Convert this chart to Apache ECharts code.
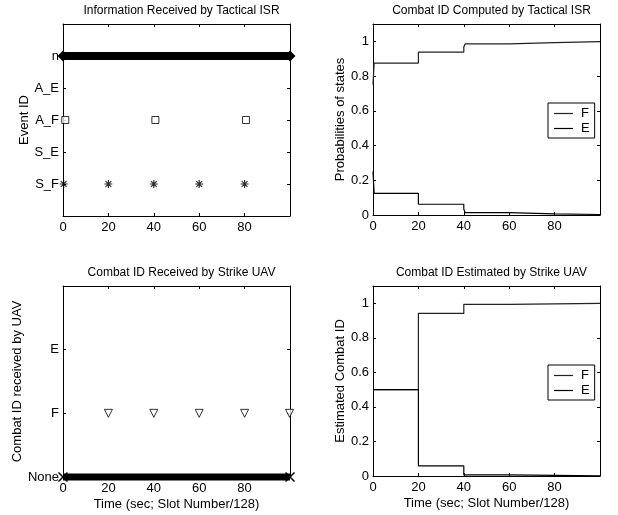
<!DOCTYPE html>
<html><head><meta charset="utf-8">
<script src="https://cdn.jsdelivr.net/npm/echarts@6/dist/echarts.min.js"></script>
<style>html,body{margin:0;padding:0;background:#fff}#c{width:618px;height:515px}</style>
</head><body><div id="c"></div>
<script>
// ---- data ----
var titles = ['Information Received by Tactical ISR','Combat ID Computed by Tactical ISR','Combat ID Received by Strike UAV','Combat ID Estimated by Strike UAV'];
var yNames = ['Event ID','Probabilities of states','Combat ID received by UAV','Estimated Combat ID'];
var xName = 'Time (sec; Slot Number/128)';
var eventLabels = ['', 'S_F', 'S_E', 'A_F', 'A_E', 'n'];
var uavLabels = ['None', 'F', 'E'];
var xTicks = [0, 20, 40, 60, 80];
var probTicks = [0, 0.2, 0.4, 0.6, 0.8, 1];
// top-left
var noneEventRow = [[0, 5], [100, 5]];
var afEvents = [[1, 3], [40.7, 3], [80.6, 3]];
var sfEvents = [[0.3, 1], [20, 1], [40, 1], [60, 1], [80, 1]];
// top-right
var ispTimes = [0, 0.5, 20, 40, 40.6, 60, 80, 100];
var ispF = [0.75, 0.875, 0.938, 0.967, 0.986, 0.993, 0.998, 0.998];
var ispE = [0.25, 0.125, 0.062, 0.033, 0.014, 0.007, 0.003, 0.003];
// bottom-left
var noneUavRow = [[0, 0], [100, 0]];
var fReceived = [[20, 1], [40, 1], [60, 1], [80, 1], [99.8, 1]];
// bottom-right
var uavTimes = [0, 20, 40, 60, 100];
var uavF = [0.5, 0.941, 0.994, 0.999, 0.999];
var uavE = [0.5, 0.059, 0.006, 0.001, 0.001];

// ---- build ----
var FONT = "'Liberation Sans', Arial, sans-serif";
var chart = echarts.init(document.getElementById('c'), null, {renderer: 'canvas'});
var grids = [
  {left: 63, top: 24, width: 227, height: 192},
  {left: 373, top: 24, width: 227, height: 191},
  {left: 63, top: 286, width: 227, height: 191},
  {left: 373, top: 286, width: 227, height: 190}
];
function probFmt(v) {
  var r = Math.round(v * 10) / 10;
  return probTicks.indexOf(r) >= 0 && Math.abs(r - v) < 1e-6 ? String(r) : '';
}
var yCfg = [
  {min: 0, max: 6, interval: 1, fmt: function (v) { return eventLabels[v] || ''; }, gap: 29},
  {min: 0, max: 1.1, interval: 0.2, fmt: probFmt, gap: 18},
  {min: 0, max: 3, interval: 1, fmt: function (v) { return v < 3 ? uavLabels[v] : ''; }, gap: 32},
  {min: 0, max: 1.1, interval: 0.2, fmt: probFmt, gap: 21}
];
var axLine = {show: true, onZero: false, lineStyle: {color: '#000', width: 1}};
var tick = {show: true, inside: true, length: 3, lineStyle: {color: '#000'}};
var lbl = {color: '#000', fontFamily: FONT, fontSize: 13};
var xAxes = [], yAxes = [];
grids.forEach(function (g, i) {
  xAxes.push({type: 'value', gridIndex: i, position: 'bottom', min: 0, max: 100, interval: 20,
    axisLine: axLine, axisTick: tick, splitLine: {show: false},
    axisLabel: Object.assign({margin: 5, formatter: function (v) { return xTicks.indexOf(v) >= 0 ? String(v) : ''; }}, lbl),
    name: i >= 2 ? xName : '', nameLocation: 'middle', nameGap: 21,
    nameTextStyle: {color: '#000', fontFamily: FONT, fontSize: 13}});
  xAxes.push({type: 'value', gridIndex: i, position: 'top', min: 0, max: 100, interval: 20,
    axisLine: axLine, axisTick: tick, splitLine: {show: false}, axisLabel: {show: false}});
  var c = yCfg[i];
  yAxes.push({type: 'value', gridIndex: i, position: 'left', min: c.min, max: c.max, interval: c.interval,
    axisLine: axLine, axisTick: tick, splitLine: {show: false},
    axisLabel: Object.assign({margin: 4, formatter: c.fmt}, lbl),
    name: yNames[i], nameLocation: 'middle', nameGap: c.gap,
    nameTextStyle: {color: '#000', fontFamily: FONT, fontSize: 13}});
  yAxes.push({type: 'value', gridIndex: i, position: 'right', min: c.min, max: c.max, interval: c.interval,
    axisLine: axLine, axisTick: tick, splitLine: {show: false}, axisLabel: {show: false}});
});
var titleOpts = grids.map(function (g, i) {
  return {text: titles[i], left: g.left + g.width / 2, top: g.top - 24, textAlign: 'center',
    textStyle: {color: '#000', fontFamily: FONT, fontSize: 12, fontWeight: 'normal'}};
});
function steps(times, vals) { return times.map(function (t, k) { return [t, vals[k]]; }); }
var star = 'path://M0,-5L0,5M-5,0L5,0M-3.6,-3.6L3.6,3.6M-3.6,3.6L3.6,-3.6';
var series = [
  {type: 'line', name: 'n', xAxisIndex: 0, yAxisIndex: 0, data: noneEventRow, clip: false,
    lineStyle: {color: '#000', width: 8}, symbol: 'diamond', symbolSize: 11, itemStyle: {color: '#000'}, silent: true},
  {type: 'scatter', name: 'A_F', xAxisIndex: 0, yAxisIndex: 0, data: afEvents, clip: false,
    symbol: 'rect', symbolSize: 7, itemStyle: {color: '#fff', borderColor: '#000', borderWidth: 1}},
  {type: 'scatter', name: 'S_F', xAxisIndex: 0, yAxisIndex: 0, data: sfEvents, clip: false,
    symbol: star, symbolSize: 8, itemStyle: {color: '#000', borderColor: '#000', borderWidth: 1.2}},
  {type: 'line', name: 'F', xAxisIndex: 2, yAxisIndex: 2, step: 'end', data: steps(ispTimes, ispF),
    symbol: 'none', lineStyle: {color: '#222', width: 1.2}, itemStyle: {color: '#222'}},
  {type: 'line', name: 'E', xAxisIndex: 2, yAxisIndex: 2, step: 'end', data: steps(ispTimes, ispE),
    symbol: 'none', lineStyle: {color: '#000', width: 1.2}, itemStyle: {color: '#000'}},
  {type: 'line', name: 'None', xAxisIndex: 4, yAxisIndex: 4, data: noneUavRow, clip: false,
    lineStyle: {color: '#000', width: 7}, symbol: 'path://M-5,-5L5,5M-5,5L5,-5', symbolSize: 9,
    itemStyle: {color: '#000', borderColor: '#000', borderWidth: 1.5}, silent: true},
  {type: 'scatter', name: 'Frcv', xAxisIndex: 4, yAxisIndex: 4, data: fReceived, clip: false,
    symbol: 'triangle', symbolRotate: 180, symbolSize: 8, itemStyle: {color: '#fff', borderColor: '#000', borderWidth: 1}},
  {type: 'line', name: 'F', xAxisIndex: 6, yAxisIndex: 6, step: 'end', data: steps(uavTimes, uavF),
    symbol: 'none', lineStyle: {color: '#222', width: 1.2}, itemStyle: {color: '#222'}},
  {type: 'line', name: 'E', xAxisIndex: 6, yAxisIndex: 6, step: 'end', data: steps(uavTimes, uavE),
    symbol: 'none', lineStyle: {color: '#000', width: 1.2}, itemStyle: {color: '#000'}}
];
var legendBase = {orient: 'vertical', data: ['F', 'E'], selectedMode: false, backgroundColor: '#fff',
  borderColor: '#000', borderWidth: 1, borderRadius: 0, padding: [4, 5, 3, 6], itemGap: 2,
  icon: 'rect', itemWidth: 19, itemHeight: 1.2,
  textStyle: {color: '#000', fontFamily: FONT, fontSize: 13, padding: [0, 0, 0, 3]}};
var legends = [
  Object.assign({left: 548, top: 103}, legendBase),
  Object.assign({left: 548, top: 365}, legendBase)
];
chart.setOption({
  animation: false,
  backgroundColor: '#fff',
  title: titleOpts,
  grid: grids,
  xAxis: xAxes,
  yAxis: yAxes,
  legend: legends,
  series: series
});
</script></body></html>
